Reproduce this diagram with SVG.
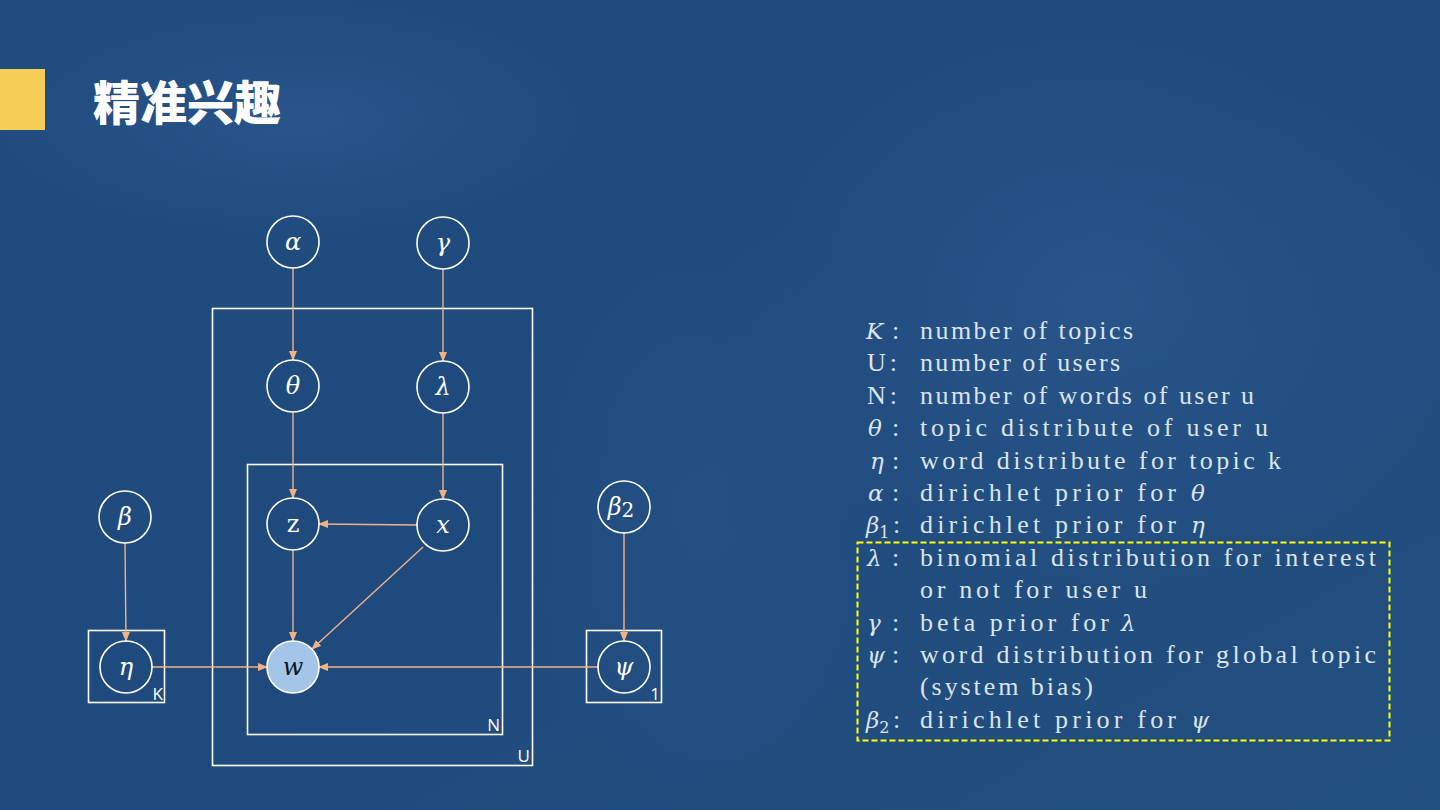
<svg xmlns="http://www.w3.org/2000/svg" width="1440" height="810" viewBox="0 0 1440 810">
<defs>
<linearGradient id="bg" x1="0" y1="0" x2="1" y2="1">
<stop offset="0" stop-color="#214c80"/>
<stop offset="0.5" stop-color="#1f4a7e"/>
<stop offset="1" stop-color="#22507f"/>
</linearGradient>
<radialGradient id="glow" cx="0.5" cy="0.5" r="0.5">
<stop offset="0" stop-color="#2f5c92" stop-opacity="0.55"/>
<stop offset="1" stop-color="#2f5c92" stop-opacity="0"/>
</radialGradient>
<marker id="arr" markerWidth="10" markerHeight="10" refX="9" refY="5" orient="auto" markerUnits="userSpaceOnUse">
<path d="M0,1 L10,5 L0,9 Z" fill="#f4b183"/>
</marker>
<style>
.node{fill:none;stroke:#ffffff;stroke-width:1.6}
.obs{fill:#a4c5e8;stroke:#ffffff;stroke-width:1.6}
.lbl{font-family:"DejaVu Serif","Liberation Serif",serif;font-style:italic;font-size:24px;fill:#ffffff;text-anchor:middle}
.plate{fill:none;stroke:#ffffff;stroke-width:1.6}
.pl{font-family:"Open Sans","Liberation Sans",sans-serif;font-size:17px;fill:#ffffff;text-anchor:end}
.edge{stroke:#f4b183;stroke-width:1.4;fill:none;marker-end:url(#arr)}
.desc{font-family:"Liberation Serif",serif;font-size:26px;fill:#dbe3ec}
.sym{font-family:"DejaVu Serif","Liberation Serif",serif;font-style:italic;font-size:23px;fill:#dbe3ec}
.col{font-family:"Liberation Serif",serif;font-size:26px;fill:#dbe3ec}
</style>
</defs>
<rect width="1440" height="810" fill="url(#bg)"/>
<ellipse cx="1100" cy="300" rx="380" ry="300" fill="url(#glow)"/>
<ellipse cx="300" cy="120" rx="300" ry="120" fill="url(#glow)"/>
<ellipse cx="700" cy="500" rx="200" ry="300" fill="url(#glow)" opacity="0.6"/>

<rect x="0" y="69" width="45" height="61" fill="#f6cd56"/>
<text x="93" y="120" font-family="'Noto Sans CJK SC','Noto Sans',sans-serif" font-weight="900" font-size="47" fill="#ffffff">精准兴趣</text>

<g id="plates">
<rect id="plate-U" class="plate" x="212.5" y="308.5" width="320" height="457"/>
<text class="pl" x="530" y="762">U</text>
<rect id="plate-N" class="plate" x="247.5" y="464.5" width="255" height="270"/>
<text class="pl" x="500" y="731">N</text>
<rect id="plate-K" class="plate" x="88.5" y="630.5" width="76" height="72"/>
<text class="pl" x="163" y="700">K</text>
<rect id="plate-1" class="plate" x="586.5" y="630.5" width="75" height="72"/>
<text class="pl" x="660" y="700">1</text>
</g>

<g id="connectors">
<line class="edge" x1="293" y1="268" x2="293" y2="360"/>
<line class="edge" x1="443" y1="269" x2="443" y2="361"/>
<line class="edge" x1="293" y1="412" x2="293" y2="498"/>
<line class="edge" x1="443" y1="413" x2="443" y2="499"/>
<line class="edge" x1="417" y1="525" x2="319" y2="524"/>
<line class="edge" x1="293" y1="550" x2="293" y2="641"/>
<line class="edge" x1="423" y1="547" x2="312" y2="649"/>
<line class="edge" x1="125" y1="543" x2="126" y2="641"/>
<line class="edge" x1="152" y1="667" x2="267" y2="667"/>
<line class="edge" x1="598" y1="667" x2="319" y2="667"/>
<line class="edge" x1="624" y1="533" x2="624" y2="641"/>
</g>

<g id="n-alpha"><circle class="node" cx="293" cy="242" r="26"/><text class="lbl" x="293" y="250">α</text></g>
<g id="n-gamma"><circle class="node" cx="443" cy="243" r="26"/><text class="lbl" x="443" y="251">γ</text></g>
<g id="n-theta"><circle class="node" cx="293" cy="386" r="26"/><text class="lbl" x="293" y="394">θ</text></g>
<g id="n-lambda"><circle class="node" cx="443" cy="387" r="26"/><text class="lbl" x="443" y="395">λ</text></g>
<g id="n-z"><circle class="node" cx="293" cy="524" r="26"/><text class="lbl" x="293" y="532" style="font-style:normal">z</text></g>
<g id="n-x"><circle class="node" cx="443" cy="525" r="26"/><text class="lbl" x="443" y="533">x</text></g>
<g id="n-beta"><circle class="node" cx="125" cy="517" r="26"/><text class="lbl" x="125" y="525">β</text></g>
<g id="n-beta2"><circle class="node" cx="624" cy="507" r="26"/><text class="lbl" x="621" y="515">β<tspan font-style="normal" font-size="20" dy="2">2</tspan></text></g>
<g id="n-eta"><circle class="node" cx="126" cy="667" r="26"/><text class="lbl" x="126" y="675">η</text></g>
<g id="n-w"><circle class="obs" cx="293" cy="667" r="26"/><text class="lbl" x="293" y="675" style="fill:#0b1624">w</text></g>
<g id="n-psi"><circle class="node" cx="624" cy="667" r="26"/><text class="lbl" x="624" y="675">ψ</text></g>

<g id="legend">
<rect x="857.5" y="542.5" width="532" height="198" fill="none" stroke="#ffff00" stroke-width="2" stroke-dasharray="6,3"/>
<text class="sym" x="866" y="339">K</text><text class="col" x="892" y="339">:</text>
<text class="desc" x="920" y="339" textLength="213" lengthAdjust="spacing">number of topics</text>
<text class="col" x="867" y="371.4" textLength="30" lengthAdjust="spacing">U:</text>
<text class="desc" x="920" y="371.4" textLength="200" lengthAdjust="spacing">number of users</text>
<text class="col" x="867" y="403.8" textLength="30" lengthAdjust="spacing">N:</text>
<text class="desc" x="920" y="403.8" textLength="334" lengthAdjust="spacing">number of words of user u</text>
<text class="sym" x="868" y="436.2">θ</text><text class="col" x="892" y="436.2">:</text>
<text class="desc" x="920" y="436.2" textLength="348" lengthAdjust="spacing">topic distribute of user u</text>
<text class="sym" x="870" y="468.6">η</text><text class="col" x="892" y="468.6">:</text>
<text class="desc" x="920" y="468.6" textLength="361" lengthAdjust="spacing">word distribute for topic k</text>
<text class="sym" x="868" y="501">α</text><text class="col" x="892" y="501">:</text>
<text class="desc" x="920" y="501" textLength="256" lengthAdjust="spacing">dirichlet prior for</text><text class="sym" x="1191" y="501">θ</text>
<text class="sym" x="866" y="533.4">β<tspan font-style="normal" font-size="16" dy="5">1</tspan></text><text class="col" x="893" y="533.4">:</text>
<text class="desc" x="920" y="533.4" textLength="256" lengthAdjust="spacing">dirichlet prior for</text><text class="sym" x="1191" y="533.4">η</text>
<text class="sym" x="867" y="565.8">λ</text><text class="col" x="892" y="565.8">:</text>
<text class="desc" x="920" y="565.8" textLength="456" lengthAdjust="spacing">binomial distribution for interest</text>
<text class="desc" x="920" y="598.2" textLength="227" lengthAdjust="spacing">or not for user u</text>
<text class="sym" x="867" y="630.6">γ</text><text class="col" x="892" y="630.6">:</text>
<text class="desc" x="920" y="630.6" textLength="189" lengthAdjust="spacing">beta prior for</text><text class="sym" x="1121" y="630.6">λ</text>
<text class="sym" x="867" y="663">ψ</text><text class="col" x="892" y="663">:</text>
<text class="desc" x="920" y="663" textLength="456" lengthAdjust="spacing">word distribution for global topic</text>
<text class="desc" x="920" y="695.4" textLength="173" lengthAdjust="spacing">(system bias)</text>
<text class="sym" x="866" y="727.8">β<tspan font-style="normal" font-size="16" dy="5">2</tspan></text><text class="col" x="893" y="727.8">:</text>
<text class="desc" x="920" y="727.8" textLength="256" lengthAdjust="spacing">dirichlet prior for</text><text class="sym" x="1191" y="727.8">ψ</text>
</g>
</svg>
